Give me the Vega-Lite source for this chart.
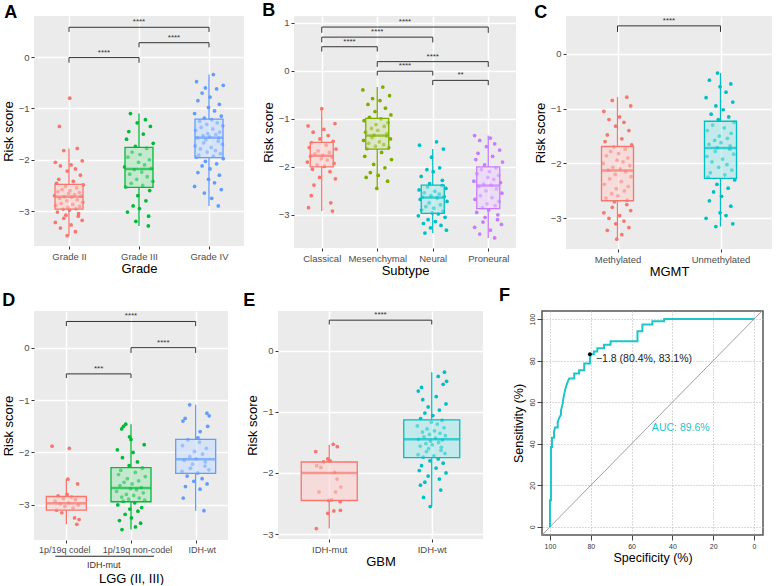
{
"$schema":"https://vega.github.io/schema/vega-lite/v6.json",
"padding":{"left":2,"top":2,"right":0,"bottom":0},
"background":"white",
"config":{
 "font":"Liberation Sans",
 "view":{"fill":"#EBEBEB","stroke":null},
 "axis":{"domain":false,"labelColor":"#4D4D4D","labelFontSize":9.5,"titleFontSize":13,"titleFontWeight":"normal","titleColor":"#000000","tickColor":"#333333","tickSize":3,"tickWidth":1,"gridColor":"#FFFFFF","labelPadding":2,"titlePadding":3},
 "title":{"fontSize":18,"fontWeight":"bold","anchor":"start","frame":"bounds","color":"#000000"}
},
"datasets":{
"pA":[
{"g":"Grade II","v":-0.8,"j":0.05},{"g":"Grade II","v":-1.35,"j":-0.64},{"g":"Grade II","v":-1.78,"j":0.55},{"g":"Grade II","v":-1.82,"j":-0.35},{"g":"Grade II","v":-2.02,"j":0.88},{"g":"Grade II","v":-2.05,"j":-0.91},{"g":"Grade II","v":-2.1,"j":0.14},{"g":"Grade II","v":-2.12,"j":-0.57},{"g":"Grade II","v":-2.18,"j":0.43},{"g":"Grade II","v":-2.22,"j":-0.12},{"g":"Grade II","v":-2.3,"j":0.76},{"g":"Grade II","v":-2.38,"j":-0.68},{"g":"Grade II","v":-2.42,"j":0.29},{"g":"Grade II","v":-2.46,"j":-0.83},{"g":"Grade II","v":-2.49,"j":0.95},{"g":"Grade II","v":-2.52,"j":-0.24},{"g":"Grade II","v":-2.55,"j":0.51},{"g":"Grade II","v":-2.58,"j":-0.46},{"g":"Grade II","v":-2.6,"j":0.07},{"g":"Grade II","v":-2.62,"j":-0.74},{"g":"Grade II","v":-2.64,"j":0.69},{"g":"Grade II","v":-2.66,"j":-0.03},{"g":"Grade II","v":-2.68,"j":0.37},{"g":"Grade II","v":-2.7,"j":-0.96},{"g":"Grade II","v":-2.71,"j":0.82},{"g":"Grade II","v":-2.72,"j":-0.31},{"g":"Grade II","v":-2.73,"j":0.18},{"g":"Grade II","v":-2.75,"j":-0.62},{"g":"Grade II","v":-2.78,"j":0.55},{"g":"Grade II","v":-2.8,"j":-0.15},{"g":"Grade II","v":-2.83,"j":0.91},{"g":"Grade II","v":-2.85,"j":-0.52},{"g":"Grade II","v":-2.87,"j":0.25},{"g":"Grade II","v":-2.89,"j":-0.88},{"g":"Grade II","v":-2.91,"j":0.71},{"g":"Grade II","v":-2.93,"j":-0.08},{"g":"Grade II","v":-2.95,"j":0.46},{"g":"Grade II","v":-2.96,"j":-0.39},{"g":"Grade II","v":-2.98,"j":0.03},{"g":"Grade II","v":-3.02,"j":-0.77},{"g":"Grade II","v":-3.05,"j":0.64},{"g":"Grade II","v":-3.08,"j":-0.21},{"g":"Grade II","v":-3.1,"j":0.62},{"g":"Grade II","v":-3.14,"j":-0.35},{"g":"Grade II","v":-3.18,"j":0.88},{"g":"Grade II","v":-3.22,"j":-0.91},{"g":"Grade II","v":-3.27,"j":0.14},{"g":"Grade II","v":-3.33,"j":-0.57},{"g":"Grade II","v":-3.4,"j":0.43},{"g":"Grade II","v":-3.48,"j":-0.12},
{"g":"Grade III","v":-1.1,"j":-0.57},{"g":"Grade III","v":-1.22,"j":0.43},{"g":"Grade III","v":-1.28,"j":-0.12},{"g":"Grade III","v":-1.35,"j":0.76},{"g":"Grade III","v":-1.45,"j":-0.68},{"g":"Grade III","v":-1.5,"j":0.29},{"g":"Grade III","v":-1.6,"j":-0.83},{"g":"Grade III","v":-1.68,"j":0.95},{"g":"Grade III","v":-1.74,"j":-0.24},{"g":"Grade III","v":-1.78,"j":0.51},{"g":"Grade III","v":-1.85,"j":-0.46},{"g":"Grade III","v":-1.9,"j":0.07},{"g":"Grade III","v":-1.95,"j":-0.74},{"g":"Grade III","v":-2.0,"j":0.69},{"g":"Grade III","v":-2.05,"j":-0.03},{"g":"Grade III","v":-2.1,"j":0.37},{"g":"Grade III","v":-2.14,"j":-0.96},{"g":"Grade III","v":-2.17,"j":0.82},{"g":"Grade III","v":-2.19,"j":-0.31},{"g":"Grade III","v":-2.24,"j":0.18},{"g":"Grade III","v":-2.28,"j":-0.62},{"g":"Grade III","v":-2.33,"j":0.55},{"g":"Grade III","v":-2.38,"j":-0.15},{"g":"Grade III","v":-2.42,"j":0.91},{"g":"Grade III","v":-2.46,"j":-0.52},{"g":"Grade III","v":-2.5,"j":0.25},{"g":"Grade III","v":-2.53,"j":-0.88},{"g":"Grade III","v":-2.6,"j":0.71},{"g":"Grade III","v":-2.7,"j":-0.08},{"g":"Grade III","v":-2.8,"j":0.46},{"g":"Grade III","v":-2.9,"j":-0.39},{"g":"Grade III","v":-2.95,"j":0.03},{"g":"Grade III","v":-3.02,"j":-0.77},{"g":"Grade III","v":-3.1,"j":0.64},{"g":"Grade III","v":-3.2,"j":-0.21},{"g":"Grade III","v":-3.29,"j":0.62},
{"g":"Grade IV","v":-0.34,"j":0.29},{"g":"Grade IV","v":-0.48,"j":-0.83},{"g":"Grade IV","v":-0.55,"j":0.95},{"g":"Grade IV","v":-0.6,"j":-0.24},{"g":"Grade IV","v":-0.62,"j":0.51},{"g":"Grade IV","v":-0.7,"j":-0.46},{"g":"Grade IV","v":-0.78,"j":0.07},{"g":"Grade IV","v":-0.85,"j":-0.74},{"g":"Grade IV","v":-0.92,"j":0.69},{"g":"Grade IV","v":-0.98,"j":-0.03},{"g":"Grade IV","v":-1.05,"j":0.37},{"g":"Grade IV","v":-1.1,"j":-0.96},{"g":"Grade IV","v":-1.15,"j":0.82},{"g":"Grade IV","v":-1.19,"j":-0.31},{"g":"Grade IV","v":-1.22,"j":0.18},{"g":"Grade IV","v":-1.25,"j":-0.62},{"g":"Grade IV","v":-1.28,"j":0.55},{"g":"Grade IV","v":-1.31,"j":-0.15},{"g":"Grade IV","v":-1.34,"j":0.91},{"g":"Grade IV","v":-1.37,"j":-0.52},{"g":"Grade IV","v":-1.4,"j":0.25},{"g":"Grade IV","v":-1.43,"j":-0.88},{"g":"Grade IV","v":-1.46,"j":0.71},{"g":"Grade IV","v":-1.49,"j":-0.08},{"g":"Grade IV","v":-1.51,"j":0.46},{"g":"Grade IV","v":-1.53,"j":-0.39},{"g":"Grade IV","v":-1.55,"j":0.03},{"g":"Grade IV","v":-1.57,"j":-0.77},{"g":"Grade IV","v":-1.58,"j":0.64},{"g":"Grade IV","v":-1.61,"j":-0.21},{"g":"Grade IV","v":-1.64,"j":0.62},{"g":"Grade IV","v":-1.67,"j":-0.35},{"g":"Grade IV","v":-1.7,"j":0.88},{"g":"Grade IV","v":-1.73,"j":-0.91},{"g":"Grade IV","v":-1.76,"j":0.14},{"g":"Grade IV","v":-1.79,"j":-0.57},{"g":"Grade IV","v":-1.82,"j":0.43},{"g":"Grade IV","v":-1.85,"j":-0.12},{"g":"Grade IV","v":-1.88,"j":0.76},{"g":"Grade IV","v":-1.91,"j":-0.68},{"g":"Grade IV","v":-1.93,"j":0.29},{"g":"Grade IV","v":-1.95,"j":-0.83},{"g":"Grade IV","v":-1.98,"j":0.95},{"g":"Grade IV","v":-2.03,"j":-0.24},{"g":"Grade IV","v":-2.08,"j":0.51},{"g":"Grade IV","v":-2.12,"j":-0.46},{"g":"Grade IV","v":-2.18,"j":0.07},{"g":"Grade IV","v":-2.25,"j":-0.74},{"g":"Grade IV","v":-2.3,"j":0.69},{"g":"Grade IV","v":-2.38,"j":-0.03},{"g":"Grade IV","v":-2.45,"j":0.37},{"g":"Grade IV","v":-2.52,"j":-0.96},{"g":"Grade IV","v":-2.58,"j":0.82},{"g":"Grade IV","v":-2.65,"j":-0.31},{"g":"Grade IV","v":-2.75,"j":0.18},{"g":"Grade IV","v":-2.9,"j":0.62}
],
"bA":[{"g":"Grade II","lo":-3.48,"q1":-2.96,"med":-2.72,"q3":-2.48,"hi":-1.78},{"g":"Grade III","lo":-3.29,"q1":-2.54,"med":-2.18,"q3":-1.76,"hi":-1.1},{"g":"Grade IV","lo":-2.9,"q1":-1.96,"med":-1.57,"q3":-1.21,"hi":-0.34}],
"kA":[{"a":"Grade II","b":"Grade III","m":"_1","y":-0.01,"yb":-0.11,"t":"****"},{"a":"Grade III","b":"Grade IV","m":"_2","y":0.28,"yb":0.19,"t":"****"},{"a":"Grade II","b":"Grade IV","m":"Grade III","y":0.58,"yb":0.49,"t":"****"}],
"pB":[
{"g":"Classical","v":-0.79,"j":0.0},{"g":"Classical","v":-1.1,"j":0.88},{"g":"Classical","v":-1.15,"j":-0.91},{"g":"Classical","v":-1.22,"j":0.14},{"g":"Classical","v":-1.28,"j":-0.57},{"g":"Classical","v":-1.35,"j":0.43},{"g":"Classical","v":-1.42,"j":-0.12},{"g":"Classical","v":-1.47,"j":0.76},{"g":"Classical","v":-1.5,"j":-0.68},{"g":"Classical","v":-1.55,"j":0.29},{"g":"Classical","v":-1.6,"j":-0.83},{"g":"Classical","v":-1.63,"j":0.95},{"g":"Classical","v":-1.67,"j":-0.24},{"g":"Classical","v":-1.7,"j":0.51},{"g":"Classical","v":-1.73,"j":-0.46},{"g":"Classical","v":-1.76,"j":0.07},{"g":"Classical","v":-1.78,"j":-0.74},{"g":"Classical","v":-1.8,"j":0.69},{"g":"Classical","v":-1.83,"j":-0.03},{"g":"Classical","v":-1.86,"j":0.37},{"g":"Classical","v":-1.9,"j":-0.96},{"g":"Classical","v":-1.93,"j":0.82},{"g":"Classical","v":-1.96,"j":-0.31},{"g":"Classical","v":-1.99,"j":0.18},{"g":"Classical","v":-2.05,"j":-0.62},{"g":"Classical","v":-2.1,"j":0.55},{"g":"Classical","v":-2.22,"j":-0.15},{"g":"Classical","v":-2.25,"j":0.91},{"g":"Classical","v":-2.38,"j":-0.52},{"g":"Classical","v":-2.6,"j":-0.7},{"g":"Classical","v":-2.75,"j":0.6},{"g":"Classical","v":-2.85,"j":-0.88},{"g":"Classical","v":-2.92,"j":0.71},
{"g":"Mesenchymal","v":-0.34,"j":0.37},{"g":"Mesenchymal","v":-0.4,"j":-0.96},{"g":"Mesenchymal","v":-0.52,"j":0.82},{"g":"Mesenchymal","v":-0.58,"j":-0.31},{"g":"Mesenchymal","v":-0.62,"j":0.18},{"g":"Mesenchymal","v":-0.7,"j":-0.62},{"g":"Mesenchymal","v":-0.78,"j":0.55},{"g":"Mesenchymal","v":-0.85,"j":-0.15},{"g":"Mesenchymal","v":-0.92,"j":0.91},{"g":"Mesenchymal","v":-0.97,"j":-0.52},{"g":"Mesenchymal","v":-1.0,"j":0.25},{"g":"Mesenchymal","v":-1.04,"j":-0.88},{"g":"Mesenchymal","v":-1.08,"j":0.71},{"g":"Mesenchymal","v":-1.12,"j":-0.08},{"g":"Mesenchymal","v":-1.16,"j":0.46},{"g":"Mesenchymal","v":-1.2,"j":-0.39},{"g":"Mesenchymal","v":-1.24,"j":0.03},{"g":"Mesenchymal","v":-1.28,"j":-0.77},{"g":"Mesenchymal","v":-1.31,"j":0.64},{"g":"Mesenchymal","v":-1.34,"j":-0.21},{"g":"Mesenchymal","v":-1.36,"j":0.62},{"g":"Mesenchymal","v":-1.39,"j":-0.35},{"g":"Mesenchymal","v":-1.42,"j":0.88},{"g":"Mesenchymal","v":-1.45,"j":-0.91},{"g":"Mesenchymal","v":-1.48,"j":0.14},{"g":"Mesenchymal","v":-1.51,"j":-0.57},{"g":"Mesenchymal","v":-1.54,"j":0.43},{"g":"Mesenchymal","v":-1.57,"j":-0.12},{"g":"Mesenchymal","v":-1.6,"j":0.76},{"g":"Mesenchymal","v":-1.62,"j":-0.68},{"g":"Mesenchymal","v":-1.7,"j":0.29},{"g":"Mesenchymal","v":-1.78,"j":-0.83},{"g":"Mesenchymal","v":-1.85,"j":0.95},{"g":"Mesenchymal","v":-1.95,"j":-0.24},{"g":"Mesenchymal","v":-2.02,"j":0.51},{"g":"Mesenchymal","v":-2.12,"j":-0.46},{"g":"Mesenchymal","v":-2.18,"j":0.07},{"g":"Mesenchymal","v":-2.22,"j":-0.74},{"g":"Mesenchymal","v":-2.3,"j":0.69},{"g":"Mesenchymal","v":-2.45,"j":-0.03},
{"g":"Neural","v":-1.48,"j":0.25},{"g":"Neural","v":-1.55,"j":-0.88},{"g":"Neural","v":-1.63,"j":0.71},{"g":"Neural","v":-1.8,"j":-0.08},{"g":"Neural","v":-2.02,"j":0.46},{"g":"Neural","v":-2.06,"j":-0.39},{"g":"Neural","v":-2.1,"j":0.03},{"g":"Neural","v":-2.2,"j":-0.77},{"g":"Neural","v":-2.28,"j":0.64},{"g":"Neural","v":-2.35,"j":-0.21},{"g":"Neural","v":-2.39,"j":0.62},{"g":"Neural","v":-2.42,"j":-0.35},{"g":"Neural","v":-2.45,"j":0.88},{"g":"Neural","v":-2.48,"j":-0.91},{"g":"Neural","v":-2.51,"j":0.14},{"g":"Neural","v":-2.54,"j":-0.57},{"g":"Neural","v":-2.57,"j":0.43},{"g":"Neural","v":-2.6,"j":-0.12},{"g":"Neural","v":-2.62,"j":0.76},{"g":"Neural","v":-2.63,"j":-0.68},{"g":"Neural","v":-2.65,"j":0.29},{"g":"Neural","v":-2.68,"j":-0.83},{"g":"Neural","v":-2.72,"j":0.95},{"g":"Neural","v":-2.75,"j":-0.24},{"g":"Neural","v":-2.79,"j":0.51},{"g":"Neural","v":-2.83,"j":-0.46},{"g":"Neural","v":-2.86,"j":0.07},{"g":"Neural","v":-2.9,"j":-0.74},{"g":"Neural","v":-2.93,"j":0.69},{"g":"Neural","v":-2.96,"j":-0.03},{"g":"Neural","v":-2.98,"j":0.37},{"g":"Neural","v":-3.02,"j":-0.96},{"g":"Neural","v":-3.05,"j":0.82},{"g":"Neural","v":-3.1,"j":-0.31},{"g":"Neural","v":-3.14,"j":0.18},{"g":"Neural","v":-3.18,"j":-0.62},{"g":"Neural","v":-3.22,"j":0.55},{"g":"Neural","v":-3.27,"j":-0.15},{"g":"Neural","v":-3.32,"j":0.91},{"g":"Neural","v":-3.38,"j":-0.52},
{"g":"Proneural","v":-1.35,"j":-0.91},{"g":"Proneural","v":-1.4,"j":0.14},{"g":"Proneural","v":-1.45,"j":-0.57},{"g":"Proneural","v":-1.52,"j":0.43},{"g":"Proneural","v":-1.58,"j":-0.12},{"g":"Proneural","v":-1.65,"j":0.76},{"g":"Proneural","v":-1.72,"j":-0.68},{"g":"Proneural","v":-1.78,"j":0.29},{"g":"Proneural","v":-1.85,"j":-0.83},{"g":"Proneural","v":-1.9,"j":0.95},{"g":"Proneural","v":-1.96,"j":-0.24},{"g":"Proneural","v":-2.02,"j":0.51},{"g":"Proneural","v":-2.06,"j":-0.46},{"g":"Proneural","v":-2.1,"j":0.07},{"g":"Proneural","v":-2.14,"j":-0.74},{"g":"Proneural","v":-2.18,"j":0.69},{"g":"Proneural","v":-2.22,"j":-0.03},{"g":"Proneural","v":-2.26,"j":0.37},{"g":"Proneural","v":-2.3,"j":-0.96},{"g":"Proneural","v":-2.33,"j":0.82},{"g":"Proneural","v":-2.36,"j":-0.31},{"g":"Proneural","v":-2.38,"j":0.18},{"g":"Proneural","v":-2.41,"j":-0.62},{"g":"Proneural","v":-2.46,"j":0.55},{"g":"Proneural","v":-2.5,"j":-0.15},{"g":"Proneural","v":-2.55,"j":0.91},{"g":"Proneural","v":-2.6,"j":-0.52},{"g":"Proneural","v":-2.64,"j":0.25},{"g":"Proneural","v":-2.68,"j":-0.88},{"g":"Proneural","v":-2.72,"j":0.71},{"g":"Proneural","v":-2.77,"j":-0.08},{"g":"Proneural","v":-2.81,"j":0.46},{"g":"Proneural","v":-2.85,"j":-0.39},{"g":"Proneural","v":-2.9,"j":0.03},{"g":"Proneural","v":-2.95,"j":-0.77},{"g":"Proneural","v":-3.0,"j":0.64},{"g":"Proneural","v":-3.05,"j":-0.21},{"g":"Proneural","v":-3.1,"j":0.62},{"g":"Proneural","v":-3.15,"j":-0.35},{"g":"Proneural","v":-3.2,"j":0.88},{"g":"Proneural","v":-3.26,"j":-0.91},{"g":"Proneural","v":-3.32,"j":0.14},{"g":"Proneural","v":-3.4,"j":-0.57},{"g":"Proneural","v":-3.48,"j":0.43}
],
"bB":[{"g":"Classical","lo":-2.92,"q1":-2.0,"med":-1.77,"q3":-1.49,"hi":-0.79},{"g":"Mesenchymal","lo":-2.45,"q1":-1.63,"med":-1.35,"q3":-0.99,"hi":-0.34},{"g":"Neural","lo":-3.38,"q1":-2.97,"med":-2.64,"q3":-2.38,"hi":-1.63},{"g":"Proneural","lo":-3.48,"q1":-2.87,"med":-2.39,"q3":-2.0,"hi":-1.35}],
"kB":[{"a":"Classical","b":"Proneural","m":"_2","y":0.91,"yb":0.79,"t":"****"},{"a":"Classical","b":"Neural","m":"Mesenchymal","y":0.7,"yb":0.59,"t":"****"},{"a":"Classical","b":"Mesenchymal","m":"_1","y":0.5,"yb":0.4,"t":"****"},{"a":"Mesenchymal","b":"Proneural","m":"Neural","y":0.19,"yb":0.08,"t":"****"},{"a":"Mesenchymal","b":"Neural","m":"_2","y":-0.01,"yb":-0.1,"t":"****"},{"a":"Neural","b":"Proneural","m":"_3","y":-0.2,"yb":-0.3,"t":"**"}],
"pC":[
{"g":"Methylated","v":-0.79,"j":0.62},{"g":"Methylated","v":-0.85,"j":-0.35},{"g":"Methylated","v":-0.95,"j":0.88},{"g":"Methylated","v":-1.05,"j":-0.91},{"g":"Methylated","v":-1.15,"j":0.14},{"g":"Methylated","v":-1.2,"j":-0.57},{"g":"Methylated","v":-1.25,"j":0.43},{"g":"Methylated","v":-1.32,"j":-0.12},{"g":"Methylated","v":-1.4,"j":0.76},{"g":"Methylated","v":-1.48,"j":-0.68},{"g":"Methylated","v":-1.55,"j":0.29},{"g":"Methylated","v":-1.6,"j":-0.83},{"g":"Methylated","v":-1.66,"j":0.95},{"g":"Methylated","v":-1.7,"j":-0.24},{"g":"Methylated","v":-1.74,"j":0.51},{"g":"Methylated","v":-1.78,"j":-0.46},{"g":"Methylated","v":-1.82,"j":0.07},{"g":"Methylated","v":-1.86,"j":-0.74},{"g":"Methylated","v":-1.9,"j":0.69},{"g":"Methylated","v":-1.94,"j":-0.03},{"g":"Methylated","v":-1.97,"j":0.37},{"g":"Methylated","v":-2.0,"j":-0.96},{"g":"Methylated","v":-2.04,"j":0.82},{"g":"Methylated","v":-2.07,"j":-0.31},{"g":"Methylated","v":-2.1,"j":0.18},{"g":"Methylated","v":-2.12,"j":-0.62},{"g":"Methylated","v":-2.15,"j":0.55},{"g":"Methylated","v":-2.2,"j":-0.15},{"g":"Methylated","v":-2.24,"j":0.91},{"g":"Methylated","v":-2.28,"j":-0.52},{"g":"Methylated","v":-2.33,"j":0.25},{"g":"Methylated","v":-2.38,"j":-0.88},{"g":"Methylated","v":-2.42,"j":0.71},{"g":"Methylated","v":-2.46,"j":-0.08},{"g":"Methylated","v":-2.5,"j":0.46},{"g":"Methylated","v":-2.55,"j":-0.39},{"g":"Methylated","v":-2.59,"j":0.03},{"g":"Methylated","v":-2.63,"j":-0.77},{"g":"Methylated","v":-2.67,"j":0.64},{"g":"Methylated","v":-2.7,"j":-0.21},{"g":"Methylated","v":-2.75,"j":0.62},{"g":"Methylated","v":-2.8,"j":-0.35},{"g":"Methylated","v":-2.86,"j":0.88},{"g":"Methylated","v":-2.9,"j":-0.91},{"g":"Methylated","v":-2.95,"j":0.14},{"g":"Methylated","v":-3.0,"j":-0.57},{"g":"Methylated","v":-3.05,"j":0.43},{"g":"Methylated","v":-3.1,"j":-0.12},{"g":"Methylated","v":-3.17,"j":0.76},{"g":"Methylated","v":-3.22,"j":-0.68},{"g":"Methylated","v":-3.3,"j":0.29},{"g":"Methylated","v":-3.38,"j":-0.05},
{"g":"Unmethylated","v":-0.35,"j":-0.2},{"g":"Unmethylated","v":-0.48,"j":-0.74},{"g":"Unmethylated","v":-0.55,"j":0.69},{"g":"Unmethylated","v":-0.6,"j":-0.03},{"g":"Unmethylated","v":-0.7,"j":0.37},{"g":"Unmethylated","v":-0.8,"j":-0.96},{"g":"Unmethylated","v":-0.88,"j":0.82},{"g":"Unmethylated","v":-0.95,"j":-0.31},{"g":"Unmethylated","v":-1.02,"j":0.18},{"g":"Unmethylated","v":-1.1,"j":-0.62},{"g":"Unmethylated","v":-1.15,"j":0.55},{"g":"Unmethylated","v":-1.2,"j":-0.15},{"g":"Unmethylated","v":-1.25,"j":0.91},{"g":"Unmethylated","v":-1.3,"j":-0.52},{"g":"Unmethylated","v":-1.35,"j":0.25},{"g":"Unmethylated","v":-1.4,"j":-0.88},{"g":"Unmethylated","v":-1.45,"j":0.71},{"g":"Unmethylated","v":-1.5,"j":-0.08},{"g":"Unmethylated","v":-1.54,"j":0.46},{"g":"Unmethylated","v":-1.58,"j":-0.39},{"g":"Unmethylated","v":-1.62,"j":0.03},{"g":"Unmethylated","v":-1.65,"j":-0.77},{"g":"Unmethylated","v":-1.68,"j":0.64},{"g":"Unmethylated","v":-1.71,"j":-0.21},{"g":"Unmethylated","v":-1.74,"j":0.62},{"g":"Unmethylated","v":-1.78,"j":-0.35},{"g":"Unmethylated","v":-1.83,"j":0.88},{"g":"Unmethylated","v":-1.87,"j":-0.91},{"g":"Unmethylated","v":-1.92,"j":0.14},{"g":"Unmethylated","v":-1.97,"j":-0.57},{"g":"Unmethylated","v":-2.02,"j":0.43},{"g":"Unmethylated","v":-2.07,"j":-0.12},{"g":"Unmethylated","v":-2.12,"j":0.76},{"g":"Unmethylated","v":-2.17,"j":-0.68},{"g":"Unmethylated","v":-2.21,"j":0.29},{"g":"Unmethylated","v":-2.25,"j":-0.83},{"g":"Unmethylated","v":-2.3,"j":0.95},{"g":"Unmethylated","v":-2.38,"j":-0.24},{"g":"Unmethylated","v":-2.45,"j":0.51},{"g":"Unmethylated","v":-2.52,"j":-0.46},{"g":"Unmethylated","v":-2.6,"j":0.07},{"g":"Unmethylated","v":-2.68,"j":-0.74},{"g":"Unmethylated","v":-2.78,"j":0.69},{"g":"Unmethylated","v":-2.9,"j":-0.03},{"g":"Unmethylated","v":-2.95,"j":0.37},{"g":"Unmethylated","v":-3.0,"j":-0.96},{"g":"Unmethylated","v":-3.1,"j":0.82},{"g":"Unmethylated","v":-3.15,"j":-0.31}
],
"bC":[{"g":"Methylated","lo":-3.38,"q1":-2.68,"med":-2.13,"q3":-1.69,"hi":-0.79},{"g":"Unmethylated","lo":-3.15,"q1":-2.27,"med":-1.72,"q3":-1.23,"hi":-0.35}],
"kC":[{"a":"Methylated","b":"Unmethylated","m":"_1","y":0.51,"yb":0.4,"t":"****"}],
"pD":[
{"g":"1p/19q codel","v":-1.88,"j":-0.95},{"g":"1p/19q codel","v":-1.92,"j":0.2},{"g":"1p/19q codel","v":-2.51,"j":0.1},{"g":"1p/19q codel","v":-2.6,"j":0.75},{"g":"1p/19q codel","v":-2.8,"j":0.05},{"g":"1p/19q codel","v":-2.83,"j":-0.55},{"g":"1p/19q codel","v":-2.85,"j":0.35},{"g":"1p/19q codel","v":-2.88,"j":-0.2},{"g":"1p/19q codel","v":-2.9,"j":0.6},{"g":"1p/19q codel","v":-2.93,"j":-0.75},{"g":"1p/19q codel","v":-2.96,"j":0.15},{"g":"1p/19q codel","v":-2.98,"j":-0.4},{"g":"1p/19q codel","v":-3.0,"j":0.8},{"g":"1p/19q codel","v":-3.03,"j":-0.1},{"g":"1p/19q codel","v":-3.06,"j":0.45},{"g":"1p/19q codel","v":-3.1,"j":-0.65},{"g":"1p/19q codel","v":-3.15,"j":-0.3},{"g":"1p/19q codel","v":-3.25,"j":0.55},{"g":"1p/19q codel","v":-3.28,"j":0.85},{"g":"1p/19q codel","v":-3.37,"j":0.7},
{"g":"1p/19q non-codel","v":-1.46,"j":-0.35},{"g":"1p/19q non-codel","v":-1.5,"j":-0.5},{"g":"1p/19q non-codel","v":-1.55,"j":-0.62},{"g":"1p/19q non-codel","v":-1.7,"j":-0.1},{"g":"1p/19q non-codel","v":-1.75,"j":0.0},{"g":"1p/19q non-codel","v":-1.85,"j":0.88},{"g":"1p/19q non-codel","v":-1.95,"j":-0.91},{"g":"1p/19q non-codel","v":-2.0,"j":0.14},{"g":"1p/19q non-codel","v":-2.1,"j":-0.57},{"g":"1p/19q non-codel","v":-2.18,"j":0.43},{"g":"1p/19q non-codel","v":-2.25,"j":-0.12},{"g":"1p/19q non-codel","v":-2.3,"j":0.76},{"g":"1p/19q non-codel","v":-2.34,"j":-0.68},{"g":"1p/19q non-codel","v":-2.38,"j":0.29},{"g":"1p/19q non-codel","v":-2.42,"j":-0.83},{"g":"1p/19q non-codel","v":-2.46,"j":0.95},{"g":"1p/19q non-codel","v":-2.5,"j":-0.24},{"g":"1p/19q non-codel","v":-2.54,"j":0.51},{"g":"1p/19q non-codel","v":-2.57,"j":-0.46},{"g":"1p/19q non-codel","v":-2.6,"j":0.07},{"g":"1p/19q non-codel","v":-2.63,"j":-0.74},{"g":"1p/19q non-codel","v":-2.67,"j":0.69},{"g":"1p/19q non-codel","v":-2.69,"j":-0.03},{"g":"1p/19q non-codel","v":-2.71,"j":0.37},{"g":"1p/19q non-codel","v":-2.74,"j":-0.96},{"g":"1p/19q non-codel","v":-2.77,"j":0.82},{"g":"1p/19q non-codel","v":-2.8,"j":-0.31},{"g":"1p/19q non-codel","v":-2.82,"j":0.18},{"g":"1p/19q non-codel","v":-2.85,"j":-0.62},{"g":"1p/19q non-codel","v":-2.87,"j":0.55},{"g":"1p/19q non-codel","v":-2.89,"j":-0.15},{"g":"1p/19q non-codel","v":-2.91,"j":0.91},{"g":"1p/19q non-codel","v":-2.93,"j":-0.52},{"g":"1p/19q non-codel","v":-2.96,"j":0.25},{"g":"1p/19q non-codel","v":-3.0,"j":-0.88},{"g":"1p/19q non-codel","v":-3.05,"j":0.71},{"g":"1p/19q non-codel","v":-3.08,"j":-0.08},{"g":"1p/19q non-codel","v":-3.12,"j":0.46},{"g":"1p/19q non-codel","v":-3.18,"j":-0.39},{"g":"1p/19q non-codel","v":-3.25,"j":0.03},{"g":"1p/19q non-codel","v":-3.3,"j":-0.77},{"g":"1p/19q non-codel","v":-3.35,"j":0.64},{"g":"1p/19q non-codel","v":-3.42,"j":0.3},{"g":"1p/19q non-codel","v":-3.47,"j":-0.6},
{"g":"IDH-wt","v":-1.09,"j":-0.4},{"g":"IDH-wt","v":-1.25,"j":0.75},{"g":"IDH-wt","v":-1.3,"j":0.9},{"g":"IDH-wt","v":-1.35,"j":-0.7},{"g":"IDH-wt","v":-1.4,"j":-0.85},{"g":"IDH-wt","v":-1.5,"j":0.8},{"g":"IDH-wt","v":-1.6,"j":0.3},{"g":"IDH-wt","v":-1.72,"j":0.15},{"g":"IDH-wt","v":-1.76,"j":-0.52},{"g":"IDH-wt","v":-1.8,"j":0.25},{"g":"IDH-wt","v":-1.87,"j":-0.88},{"g":"IDH-wt","v":-1.92,"j":0.71},{"g":"IDH-wt","v":-1.98,"j":-0.08},{"g":"IDH-wt","v":-2.03,"j":0.46},{"g":"IDH-wt","v":-2.08,"j":-0.39},{"g":"IDH-wt","v":-2.12,"j":0.03},{"g":"IDH-wt","v":-2.15,"j":-0.77},{"g":"IDH-wt","v":-2.18,"j":0.64},{"g":"IDH-wt","v":-2.22,"j":-0.21},{"g":"IDH-wt","v":-2.26,"j":0.62},{"g":"IDH-wt","v":-2.3,"j":-0.35},{"g":"IDH-wt","v":-2.33,"j":0.88},{"g":"IDH-wt","v":-2.36,"j":-0.91},{"g":"IDH-wt","v":-2.39,"j":0.14},{"g":"IDH-wt","v":-2.45,"j":-0.57},{"g":"IDH-wt","v":-2.5,"j":0.43},{"g":"IDH-wt","v":-2.55,"j":-0.12},{"g":"IDH-wt","v":-2.6,"j":0.76},{"g":"IDH-wt","v":-2.65,"j":-0.68},{"g":"IDH-wt","v":-2.7,"j":0.29},{"g":"IDH-wt","v":-2.87,"j":-0.83},{"g":"IDH-wt","v":-3.11,"j":0.55}
],
"bD":[{"g":"1p/19q codel","lo":-3.37,"q1":-3.1,"med":-2.97,"q3":-2.84,"hi":-2.51},{"g":"1p/19q non-codel","lo":-3.47,"q1":-2.94,"med":-2.68,"q3":-2.29,"hi":-1.46},{"g":"IDH-wt","lo":-3.11,"q1":-2.4,"med":-2.13,"q3":-1.75,"hi":-1.09}],
"kD":[{"a":"1p/19q codel","b":"IDH-wt","m":"1p/19q non-codel","y":0.5,"yb":0.41,"t":"****"},{"a":"1p/19q non-codel","b":"IDH-wt","m":"_2","y":0.0,"yb":-0.1,"t":"****"},{"a":"1p/19q codel","b":"1p/19q non-codel","m":"_1","y":-0.5,"yb":-0.58,"t":"***"}],
"uD":[{"a":"1p/19q codel","b":"1p/19q non-codel","m":"_1","y":-3.98,"ty":-4.14,"t":"IDH-mut"}],
"pE":[
{"g":"IDH-mut","v":-1.65,"j":-0.9},{"g":"IDH-mut","v":-1.88,"j":-0.84},{"g":"IDH-mut","v":-1.91,"j":-0.56},{"g":"IDH-mut","v":-1.82,"j":-0.38},{"g":"IDH-mut","v":-1.77,"j":-0.1},{"g":"IDH-mut","v":-1.8,"j":0.0},{"g":"IDH-mut","v":-1.8,"j":0.06},{"g":"IDH-mut","v":-1.53,"j":0.27},{"g":"IDH-mut","v":-1.57,"j":0.54},{"g":"IDH-mut","v":-1.99,"j":0.36},{"g":"IDH-mut","v":-2.1,"j":0.52},{"g":"IDH-mut","v":-2.23,"j":0.77},{"g":"IDH-mut","v":-2.31,"j":-0.68},{"g":"IDH-mut","v":-2.31,"j":0.42},{"g":"IDH-mut","v":-2.45,"j":-0.04},{"g":"IDH-mut","v":-2.44,"j":0.15},{"g":"IDH-mut","v":-2.47,"j":0.73},{"g":"IDH-mut","v":-2.66,"j":-0.1},{"g":"IDH-mut","v":-2.62,"j":0.31},{"g":"IDH-mut","v":-2.61,"j":0.74},{"g":"IDH-mut","v":-2.91,"j":-0.86},
{"g":"IDH-wt","v":-0.35,"j":0.85},{"g":"IDH-wt","v":-0.42,"j":0.43},{"g":"IDH-wt","v":-0.5,"j":0.99},{"g":"IDH-wt","v":-0.55,"j":0.76},{"g":"IDH-wt","v":-0.6,"j":-0.68},{"g":"IDH-wt","v":-0.66,"j":-0.9},{"g":"IDH-wt","v":-0.75,"j":0.3},{"g":"IDH-wt","v":-0.8,"j":-0.6},{"g":"IDH-wt","v":-0.87,"j":0.95},{"g":"IDH-wt","v":-0.92,"j":-0.24},{"g":"IDH-wt","v":-0.97,"j":0.51},{"g":"IDH-wt","v":-1.02,"j":-0.46},{"g":"IDH-wt","v":-1.06,"j":0.07},{"g":"IDH-wt","v":-1.11,"j":-0.74},{"g":"IDH-wt","v":-1.14,"j":0.69},{"g":"IDH-wt","v":-1.17,"j":-0.03},{"g":"IDH-wt","v":-1.2,"j":0.37},{"g":"IDH-wt","v":-1.23,"j":-0.96},{"g":"IDH-wt","v":-1.26,"j":0.82},{"g":"IDH-wt","v":-1.28,"j":-0.31},{"g":"IDH-wt","v":-1.31,"j":0.18},{"g":"IDH-wt","v":-1.33,"j":-0.62},{"g":"IDH-wt","v":-1.35,"j":0.55},{"g":"IDH-wt","v":-1.37,"j":-0.15},{"g":"IDH-wt","v":-1.39,"j":0.91},{"g":"IDH-wt","v":-1.41,"j":-0.52},{"g":"IDH-wt","v":-1.43,"j":0.25},{"g":"IDH-wt","v":-1.45,"j":-0.88},{"g":"IDH-wt","v":-1.46,"j":0.71},{"g":"IDH-wt","v":-1.48,"j":-0.08},{"g":"IDH-wt","v":-1.5,"j":0.46},{"g":"IDH-wt","v":-1.52,"j":-0.39},{"g":"IDH-wt","v":-1.54,"j":0.03},{"g":"IDH-wt","v":-1.56,"j":-0.77},{"g":"IDH-wt","v":-1.58,"j":0.64},{"g":"IDH-wt","v":-1.6,"j":-0.21},{"g":"IDH-wt","v":-1.63,"j":0.62},{"g":"IDH-wt","v":-1.65,"j":-0.35},{"g":"IDH-wt","v":-1.68,"j":0.88},{"g":"IDH-wt","v":-1.7,"j":-0.91},{"g":"IDH-wt","v":-1.72,"j":0.14},{"g":"IDH-wt","v":-1.74,"j":-0.57},{"g":"IDH-wt","v":-1.77,"j":0.43},{"g":"IDH-wt","v":-1.8,"j":-0.12},{"g":"IDH-wt","v":-1.84,"j":0.76},{"g":"IDH-wt","v":-1.88,"j":-0.68},{"g":"IDH-wt","v":-1.92,"j":0.29},{"g":"IDH-wt","v":-1.96,"j":-0.83},{"g":"IDH-wt","v":-2.0,"j":0.95},{"g":"IDH-wt","v":-2.05,"j":-0.24},{"g":"IDH-wt","v":-2.1,"j":0.51},{"g":"IDH-wt","v":-2.15,"j":-0.46},{"g":"IDH-wt","v":-2.2,"j":-0.75},{"g":"IDH-wt","v":-2.28,"j":0.6},{"g":"IDH-wt","v":-2.4,"j":-0.55},{"g":"IDH-wt","v":-2.55,"j":-0.1}
],
"bE":[{"g":"IDH-mut","lo":-2.91,"q1":-2.45,"med":-2.0,"q3":-1.82,"hi":-1.54},{"g":"IDH-wt","lo":-2.55,"q1":-1.75,"med":-1.45,"q3":-1.13,"hi":-0.35}],
"kE":[{"a":"IDH-mut","b":"IDH-wt","m":"_1","y":0.5,"yb":0.43,"t":"****"}],
"roc":[{"o":1,"sp":100,"se":0},{"o":2,"sp":100,"se":12.8},{"o":3,"sp":99.5,"se":12.8},{"o":4,"sp":99.5,"se":38.4},{"o":5,"sp":99,"se":38.4},{"o":6,"sp":99,"se":42.9},{"o":7,"sp":98,"se":42.9},{"o":8,"sp":98,"se":46},{"o":9,"sp":97.5,"se":47.8},{"o":10,"sp":96.2,"se":47.8},{"o":11,"sp":96.2,"se":50.5},{"o":12,"sp":95.4,"se":52.7},{"o":13,"sp":94.6,"se":54},{"o":14,"sp":94.6,"se":56},{"o":15,"sp":93.8,"se":59.2},{"o":16,"sp":93.4,"se":62},{"o":17,"sp":93,"se":64},{"o":18,"sp":92.2,"se":67.3},{"o":19,"sp":91.3,"se":69.8},{"o":20,"sp":90.6,"se":71.4},{"o":21,"sp":88.1,"se":71.4},{"o":22,"sp":88.1,"se":73.8},{"o":23,"sp":85.7,"se":73.8},{"o":24,"sp":85.7,"se":75.4},{"o":25,"sp":83.2,"se":75.4},{"o":26,"sp":83.2,"se":78.6},{"o":27,"sp":80.4,"se":78.6},{"o":28,"sp":80.4,"se":83.1},{"o":29,"sp":78.5,"se":83.1},{"o":30,"sp":78.5,"se":84.4},{"o":31,"sp":76.8,"se":84.4},{"o":32,"sp":76.8,"se":86},{"o":33,"sp":73.5,"se":86},{"o":34,"sp":73.5,"se":87.7},{"o":35,"sp":70.3,"se":87.7},{"o":36,"sp":70.3,"se":89.3},{"o":37,"sp":57.1,"se":89.3},{"o":38,"sp":57.1,"se":94.1},{"o":39,"sp":54.7,"se":94.1},{"o":40,"sp":54.7,"se":97.4},{"o":41,"sp":49.8,"se":97.4},{"o":42,"sp":49.8,"se":99},{"o":43,"sp":44,"se":99},{"o":44,"sp":44,"se":100},{"o":45,"sp":0,"se":100}],
"diag":[{"sp":103.9,"se":-3.9},{"sp":-3.9,"se":103.9}],
"cut":[{"sp":80.4,"se":83.1,"t":"−1.8 (80.4%, 83.1%)"}],
"auc":[{"sp":35.9,"se":47.6,"t":"AUC: 89.6%"}]
},
"vconcat":[
{"hconcat":[
{"title":{"text":"A","offset":-6,"dx":2},"width":210,"height":230,
 "layer":[
 {"data":{"name":"pA"},"mark":{"type":"circle","size":14,"opacity":1},
  "encoding":{
   "x":{"field":"g","type":"nominal","title":"Grade","scale":{"type":"point","domain":["Grade II","_1","Grade III","_2","Grade IV"],"padding":1.2},
     "axis":{"grid":true,"gridWidth":1.5,"labelAngle":0,"titlePadding":2,"labelExpr":"indexof(datum.label,'_')===0 ? '' : datum.label","gridOpacity":{"condition":{"test":"indexof(datum.value,'_')===0","value":0},"value":1},"tickOpacity":{"condition":{"test":"indexof(datum.value,'_')===0","value":0},"value":1}}},
   "xOffset":{"field":"j","type":"quantitative","scale":{"domain":[-1,1],"range":[-15,15]}},
   "y":{"field":"v","type":"quantitative","title":"Risk score","scale":{"domain":[-3.68,0.8],"nice":false,"zero":false},
     "axis":{"values":[-3,-2.5,-2,-1.5,-1,-0.5,0,0.5],"format":".0f","labelOverlap":false,"labelExpr":"datum.value % 1 === 0 ? datum.label : ''","gridWidth":{"condition":{"test":"datum.value % 1 !== 0","value":0.7},"value":1.5},"tickOpacity":{"condition":{"test":"datum.value % 1 !== 0","value":0},"value":1}}},
   "color":{"field":"g","type":"nominal","scale":{"domain":["Grade II","Grade III","Grade IV"],"range":["#F8766D","#00BA38","#619CFF"]},"legend":null}}},
 {"data":{"name":"bA"},"mark":{"type":"bar","size":28,"color":"white","opacity":0.45},
  "encoding":{"x":{"field":"g","type":"nominal","title":"Grade"},"y":{"field":"q1","type":"quantitative","title":"Risk score"},"y2":{"field":"q3"}}},
 {"data":{"name":"bA"},"mark":{"type":"bar","size":28,"fillOpacity":0.2},
  "encoding":{"x":{"field":"g","type":"nominal","title":"Grade"},"y":{"field":"q1","type":"quantitative","title":"Risk score"},"y2":{"field":"q3"},"color":{"field":"g","type":"nominal","legend":null}}},
 {"data":{"name":"bA"},"mark":{"type":"bar","size":28,"filled":false,"strokeWidth":1.3},
  "encoding":{"x":{"field":"g","type":"nominal","title":"Grade"},"y":{"field":"q1","type":"quantitative","title":"Risk score"},"y2":{"field":"q3"},"color":{"field":"g","type":"nominal","legend":null}}},
 {"data":{"name":"bA"},"mark":{"type":"rule","strokeWidth":1.3},
  "encoding":{"x":{"field":"g","type":"nominal","title":"Grade"},"y":{"field":"q3","type":"quantitative","title":"Risk score"},"y2":{"field":"hi"},"color":{"field":"g","type":"nominal","legend":null}}},
 {"data":{"name":"bA"},"mark":{"type":"rule","strokeWidth":1.3},
  "encoding":{"x":{"field":"g","type":"nominal","title":"Grade"},"y":{"field":"lo","type":"quantitative","title":"Risk score"},"y2":{"field":"q1"},"color":{"field":"g","type":"nominal","legend":null}}},
 {"data":{"name":"bA"},"mark":{"type":"tick","orient":"horizontal","size":28,"thickness":2.5},
  "encoding":{"x":{"field":"g","type":"nominal","title":"Grade"},"y":{"field":"med","type":"quantitative","title":"Risk score"},"color":{"field":"g","type":"nominal","legend":null}}},
 {"data":{"name":"kA"},"mark":{"type":"rule","color":"#333333","strokeWidth":1},
  "encoding":{"x":{"field":"a","type":"nominal","title":"Grade"},"x2":{"field":"b"},"y":{"field":"y","type":"quantitative","title":"Risk score"}}},
 {"data":{"name":"kA"},"mark":{"type":"rule","color":"#333333","strokeWidth":1},
  "encoding":{"x":{"field":"a","type":"nominal","title":"Grade"},"y":{"field":"y","type":"quantitative","title":"Risk score"},"y2":{"field":"yb"}}},
 {"data":{"name":"kA"},"mark":{"type":"rule","color":"#333333","strokeWidth":1},
  "encoding":{"x":{"field":"b","type":"nominal","title":"Grade"},"y":{"field":"y","type":"quantitative","title":"Risk score"},"y2":{"field":"yb"}}},
 {"data":{"name":"kA"},"mark":{"type":"text","fontSize":8,"color":"#333333","baseline":"bottom","dy":-1},
  "encoding":{"x":{"field":"m","type":"nominal","title":"Grade"},"y":{"field":"y","type":"quantitative","title":"Risk score"},"text":{"field":"t"}}}
 ]},
{"title":{"text":"B","offset":-4,"dx":0},"width":222,"height":232,
 "layer":[
 {"data":{"name":"pB"},"mark":{"type":"circle","size":14,"opacity":1},
  "encoding":{
   "x":{"field":"g","type":"nominal","title":"Subtype","scale":{"type":"point","domain":["Classical","_1","Mesenchymal","_2","Neural","_3","Proneural"],"padding":1.2},
     "axis":{"grid":true,"gridWidth":1.5,"labelAngle":0,"titlePadding":2,"labelExpr":"indexof(datum.label,'_')===0 ? '' : datum.label","gridOpacity":{"condition":{"test":"indexof(datum.value,'_')===0","value":0},"value":1},"tickOpacity":{"condition":{"test":"indexof(datum.value,'_')===0","value":0},"value":1}}},
   "xOffset":{"field":"j","type":"quantitative","scale":{"domain":[-1,1],"range":[-13,13]}},
   "y":{"field":"v","type":"quantitative","title":"Risk score","scale":{"domain":[-3.69,1.14],"nice":false,"zero":false},
     "axis":{"values":[-3,-2.5,-2,-1.5,-1,-0.5,0,0.5,1],"format":".0f","labelOverlap":false,"labelExpr":"datum.value % 1 === 0 ? datum.label : ''","gridWidth":{"condition":{"test":"datum.value % 1 !== 0","value":0.7},"value":1.5},"tickOpacity":{"condition":{"test":"datum.value % 1 !== 0","value":0},"value":1}}},
   "color":{"field":"g","type":"nominal","scale":{"domain":["Classical","Mesenchymal","Neural","Proneural"],"range":["#F8766D","#7CAE00","#00BFC4","#C77CFF"]},"legend":null}}},
 {"data":{"name":"bB"},"mark":{"type":"bar","size":23,"color":"white","opacity":0.45},
  "encoding":{"x":{"field":"g","type":"nominal","title":"Subtype"},"y":{"field":"q1","type":"quantitative","title":"Risk score"},"y2":{"field":"q3"}}},
 {"data":{"name":"bB"},"mark":{"type":"bar","size":23,"fillOpacity":0.2},
  "encoding":{"x":{"field":"g","type":"nominal","title":"Subtype"},"y":{"field":"q1","type":"quantitative","title":"Risk score"},"y2":{"field":"q3"},"color":{"field":"g","type":"nominal","legend":null}}},
 {"data":{"name":"bB"},"mark":{"type":"bar","size":23,"filled":false,"strokeWidth":1.3},
  "encoding":{"x":{"field":"g","type":"nominal","title":"Subtype"},"y":{"field":"q1","type":"quantitative","title":"Risk score"},"y2":{"field":"q3"},"color":{"field":"g","type":"nominal","legend":null}}},
 {"data":{"name":"bB"},"mark":{"type":"rule","strokeWidth":1.3},
  "encoding":{"x":{"field":"g","type":"nominal","title":"Subtype"},"y":{"field":"q3","type":"quantitative","title":"Risk score"},"y2":{"field":"hi"},"color":{"field":"g","type":"nominal","legend":null}}},
 {"data":{"name":"bB"},"mark":{"type":"rule","strokeWidth":1.3},
  "encoding":{"x":{"field":"g","type":"nominal","title":"Subtype"},"y":{"field":"lo","type":"quantitative","title":"Risk score"},"y2":{"field":"q1"},"color":{"field":"g","type":"nominal","legend":null}}},
 {"data":{"name":"bB"},"mark":{"type":"tick","orient":"horizontal","size":23,"thickness":2.5},
  "encoding":{"x":{"field":"g","type":"nominal","title":"Subtype"},"y":{"field":"med","type":"quantitative","title":"Risk score"},"color":{"field":"g","type":"nominal","legend":null}}},
 {"data":{"name":"kB"},"mark":{"type":"rule","color":"#333333","strokeWidth":1},
  "encoding":{"x":{"field":"a","type":"nominal","title":"Subtype"},"x2":{"field":"b"},"y":{"field":"y","type":"quantitative","title":"Risk score"}}},
 {"data":{"name":"kB"},"mark":{"type":"rule","color":"#333333","strokeWidth":1},
  "encoding":{"x":{"field":"a","type":"nominal","title":"Subtype"},"y":{"field":"y","type":"quantitative","title":"Risk score"},"y2":{"field":"yb"}}},
 {"data":{"name":"kB"},"mark":{"type":"rule","color":"#333333","strokeWidth":1},
  "encoding":{"x":{"field":"b","type":"nominal","title":"Subtype"},"y":{"field":"y","type":"quantitative","title":"Risk score"},"y2":{"field":"yb"}}},
 {"data":{"name":"kB"},"mark":{"type":"text","fontSize":8,"color":"#333333","baseline":"bottom","dy":-1},
  "encoding":{"x":{"field":"m","type":"nominal","title":"Subtype"},"y":{"field":"y","type":"quantitative","title":"Risk score"},"text":{"field":"t"}}}
 ]},
{"title":{"text":"C","offset":-6,"dx":0},"width":206,"height":233,
 "layer":[
 {"data":{"name":"pC"},"mark":{"type":"circle","size":14,"opacity":1},
  "encoding":{
   "x":{"field":"g","type":"nominal","title":"MGMT","scale":{"type":"point","domain":["Methylated","_1","Unmethylated"],"padding":1.2},
     "axis":{"grid":true,"gridWidth":1.5,"labelAngle":0,"titlePadding":2,"labelExpr":"indexof(datum.label,'_')===0 ? '' : datum.label","gridOpacity":{"condition":{"test":"indexof(datum.value,'_')===0","value":0},"value":1},"tickOpacity":{"condition":{"test":"indexof(datum.value,'_')===0","value":0},"value":1}}},
   "xOffset":{"field":"j","type":"quantitative","scale":{"domain":[-1,1],"range":[-12,12]}},
   "y":{"field":"v","type":"quantitative","title":"Risk score","scale":{"domain":[-3.56,0.69],"nice":false,"zero":false},
     "axis":{"values":[-3,-2.5,-2,-1.5,-1,-0.5,0,0.5],"format":".0f","labelOverlap":false,"labelExpr":"datum.value % 1 === 0 ? datum.label : ''","gridWidth":{"condition":{"test":"datum.value % 1 !== 0","value":0.7},"value":1.5},"tickOpacity":{"condition":{"test":"datum.value % 1 !== 0","value":0},"value":1}}},
   "color":{"field":"g","type":"nominal","scale":{"domain":["Methylated","Unmethylated"],"range":["#F8766D","#00BFC4"]},"legend":null}}},
 {"data":{"name":"bC"},"mark":{"type":"bar","size":32,"color":"white","opacity":0.45},
  "encoding":{"x":{"field":"g","type":"nominal","title":"MGMT"},"y":{"field":"q1","type":"quantitative","title":"Risk score"},"y2":{"field":"q3"}}},
 {"data":{"name":"bC"},"mark":{"type":"bar","size":32,"fillOpacity":0.2},
  "encoding":{"x":{"field":"g","type":"nominal","title":"MGMT"},"y":{"field":"q1","type":"quantitative","title":"Risk score"},"y2":{"field":"q3"},"color":{"field":"g","type":"nominal","legend":null}}},
 {"data":{"name":"bC"},"mark":{"type":"bar","size":32,"filled":false,"strokeWidth":1.3},
  "encoding":{"x":{"field":"g","type":"nominal","title":"MGMT"},"y":{"field":"q1","type":"quantitative","title":"Risk score"},"y2":{"field":"q3"},"color":{"field":"g","type":"nominal","legend":null}}},
 {"data":{"name":"bC"},"mark":{"type":"rule","strokeWidth":1.3},
  "encoding":{"x":{"field":"g","type":"nominal","title":"MGMT"},"y":{"field":"q3","type":"quantitative","title":"Risk score"},"y2":{"field":"hi"},"color":{"field":"g","type":"nominal","legend":null}}},
 {"data":{"name":"bC"},"mark":{"type":"rule","strokeWidth":1.3},
  "encoding":{"x":{"field":"g","type":"nominal","title":"MGMT"},"y":{"field":"lo","type":"quantitative","title":"Risk score"},"y2":{"field":"q1"},"color":{"field":"g","type":"nominal","legend":null}}},
 {"data":{"name":"bC"},"mark":{"type":"tick","orient":"horizontal","size":32,"thickness":2.5},
  "encoding":{"x":{"field":"g","type":"nominal","title":"MGMT"},"y":{"field":"med","type":"quantitative","title":"Risk score"},"color":{"field":"g","type":"nominal","legend":null}}},
 {"data":{"name":"kC"},"mark":{"type":"rule","color":"#333333","strokeWidth":1},
  "encoding":{"x":{"field":"a","type":"nominal","title":"MGMT"},"x2":{"field":"b"},"y":{"field":"y","type":"quantitative","title":"Risk score"}}},
 {"data":{"name":"kC"},"mark":{"type":"rule","color":"#333333","strokeWidth":1},
  "encoding":{"x":{"field":"a","type":"nominal","title":"MGMT"},"y":{"field":"y","type":"quantitative","title":"Risk score"},"y2":{"field":"yb"}}},
 {"data":{"name":"kC"},"mark":{"type":"rule","color":"#333333","strokeWidth":1},
  "encoding":{"x":{"field":"b","type":"nominal","title":"MGMT"},"y":{"field":"y","type":"quantitative","title":"Risk score"},"y2":{"field":"yb"}}},
 {"data":{"name":"kC"},"mark":{"type":"text","fontSize":8,"color":"#333333","baseline":"bottom","dy":-1},
  "encoding":{"x":{"field":"m","type":"nominal","title":"MGMT"},"y":{"field":"y","type":"quantitative","title":"Risk score"},"text":{"field":"t"}}}
 ]}
],"spacing":18,"resolve":{"scale":{"color":"independent"}}},
{"hconcat":[
{"title":{"text":"D","offset":1,"dx":0},"width":194,"height":229,
 "layer":[
 {"data":{"name":"pD"},"mark":{"type":"circle","size":14,"opacity":1},
  "encoding":{
   "x":{"field":"g","type":"nominal","title":"LGG (II, III)","scale":{"type":"point","domain":["1p/19q codel","_1","1p/19q non-codel","_2","IDH-wt"],"padding":1.2},
     "axis":{"grid":true,"gridWidth":1.5,"labelAngle":0,"labelFontSize":9,"titlePadding":18,"labelExpr":"indexof(datum.label,'_')===0 ? '' : datum.label","labelOffset":{"condition":{"test":"datum.value !== '1p/19q codel'","value":6},"value":-2},"gridOpacity":{"condition":{"test":"indexof(datum.value,'_')===0","value":0},"value":1},"tickOpacity":{"condition":{"test":"indexof(datum.value,'_')===0","value":0},"value":1}}},
   "xOffset":{"field":"j","type":"quantitative","scale":{"domain":[-1,1],"range":[-19,19]}},
   "y":{"field":"v","type":"quantitative","title":"Risk score","scale":{"domain":[-3.67,0.7],"nice":false,"zero":false},
     "axis":{"values":[-3,-2.5,-2,-1.5,-1,-0.5,0,0.5],"format":".0f","labelOverlap":false,"labelExpr":"datum.value % 1 === 0 ? datum.label : ''","gridWidth":{"condition":{"test":"datum.value % 1 !== 0","value":0.7},"value":1.5},"tickOpacity":{"condition":{"test":"datum.value % 1 !== 0","value":0},"value":1}}},
   "color":{"field":"g","type":"nominal","scale":{"domain":["1p/19q codel","1p/19q non-codel","IDH-wt"],"range":["#F8766D","#00BA38","#619CFF"]},"legend":null}}},
 {"data":{"name":"bD"},"mark":{"type":"bar","size":40,"color":"white","opacity":0.45},
  "encoding":{"x":{"field":"g","type":"nominal","title":"LGG (II, III)"},"y":{"field":"q1","type":"quantitative","title":"Risk score"},"y2":{"field":"q3"}}},
 {"data":{"name":"bD"},"mark":{"type":"bar","size":40,"fillOpacity":0.2},
  "encoding":{"x":{"field":"g","type":"nominal","title":"LGG (II, III)"},"y":{"field":"q1","type":"quantitative","title":"Risk score"},"y2":{"field":"q3"},"color":{"field":"g","type":"nominal","legend":null}}},
 {"data":{"name":"bD"},"mark":{"type":"bar","size":40,"filled":false,"strokeWidth":1.3},
  "encoding":{"x":{"field":"g","type":"nominal","title":"LGG (II, III)"},"y":{"field":"q1","type":"quantitative","title":"Risk score"},"y2":{"field":"q3"},"color":{"field":"g","type":"nominal","legend":null}}},
 {"data":{"name":"bD"},"mark":{"type":"rule","strokeWidth":1.3},
  "encoding":{"x":{"field":"g","type":"nominal","title":"LGG (II, III)"},"y":{"field":"q3","type":"quantitative","title":"Risk score"},"y2":{"field":"hi"},"color":{"field":"g","type":"nominal","legend":null}}},
 {"data":{"name":"bD"},"mark":{"type":"rule","strokeWidth":1.3},
  "encoding":{"x":{"field":"g","type":"nominal","title":"LGG (II, III)"},"y":{"field":"lo","type":"quantitative","title":"Risk score"},"y2":{"field":"q1"},"color":{"field":"g","type":"nominal","legend":null}}},
 {"data":{"name":"bD"},"mark":{"type":"tick","orient":"horizontal","size":40,"thickness":2.5},
  "encoding":{"x":{"field":"g","type":"nominal","title":"LGG (II, III)"},"y":{"field":"med","type":"quantitative","title":"Risk score"},"color":{"field":"g","type":"nominal","legend":null}}},
 {"data":{"name":"kD"},"mark":{"type":"rule","color":"#333333","strokeWidth":1},
  "encoding":{"x":{"field":"a","type":"nominal","title":"LGG (II, III)"},"x2":{"field":"b"},"y":{"field":"y","type":"quantitative","title":"Risk score"}}},
 {"data":{"name":"kD"},"mark":{"type":"rule","color":"#333333","strokeWidth":1},
  "encoding":{"x":{"field":"a","type":"nominal","title":"LGG (II, III)"},"y":{"field":"y","type":"quantitative","title":"Risk score"},"y2":{"field":"yb"}}},
 {"data":{"name":"kD"},"mark":{"type":"rule","color":"#333333","strokeWidth":1},
  "encoding":{"x":{"field":"b","type":"nominal","title":"LGG (II, III)"},"y":{"field":"y","type":"quantitative","title":"Risk score"},"y2":{"field":"yb"}}},
 {"data":{"name":"kD"},"mark":{"type":"text","fontSize":8,"color":"#333333","baseline":"bottom","dy":-1},
  "encoding":{"x":{"field":"m","type":"nominal","title":"LGG (II, III)"},"y":{"field":"y","type":"quantitative","title":"Risk score"},"text":{"field":"t"}}},
 {"data":{"name":"uD"},"mark":{"type":"rule","color":"#222222","strokeWidth":1,"xOffset":-11,"x2Offset":23},
  "encoding":{"x":{"field":"a","type":"nominal","title":"LGG (II, III)"},"x2":{"field":"b"},"y":{"field":"y","type":"quantitative","title":"Risk score"}}},
 {"data":{"name":"uD"},"mark":{"type":"text","fontSize":9,"color":"#333333","baseline":"middle","dx":5},
  "encoding":{"x":{"field":"m","type":"nominal","title":"LGG (II, III)"},"y":{"field":"ty","type":"quantitative","title":"Risk score"},"text":{"field":"t"}}}
 ]},
{"title":{"text":"E","offset":1,"dx":-3},"width":205,"height":228,
 "layer":[
 {"data":{"name":"pE"},"mark":{"type":"circle","size":14,"opacity":1},
  "encoding":{
   "x":{"field":"g","type":"nominal","title":"GBM","scale":{"type":"point","domain":["IDH-mut","_1","IDH-wt"],"padding":1.2},
     "axis":{"grid":true,"gridWidth":1.5,"labelAngle":0,"titlePadding":2,"labelExpr":"indexof(datum.label,'_')===0 ? '' : datum.label","gridOpacity":{"condition":{"test":"indexof(datum.value,'_')===0","value":0},"value":1},"tickOpacity":{"condition":{"test":"indexof(datum.value,'_')===0","value":0},"value":1}}},
   "xOffset":{"field":"j","type":"quantitative","scale":{"domain":[-1,1],"range":[-27,27]}},
   "y":{"field":"v","type":"quantitative","title":"Risk score","scale":{"domain":[-3.08,0.65],"nice":false,"zero":false},
     "axis":{"values":[-3,-2.5,-2,-1.5,-1,-0.5,0,0.5],"format":".0f","labelOverlap":false,"labelExpr":"datum.value % 1 === 0 ? datum.label : ''","gridWidth":{"condition":{"test":"datum.value % 1 !== 0","value":0.7},"value":1.5},"tickOpacity":{"condition":{"test":"datum.value % 1 !== 0","value":0},"value":1}}},
   "color":{"field":"g","type":"nominal","scale":{"domain":["IDH-mut","IDH-wt"],"range":["#F8766D","#00BFC4"]},"legend":null}}},
 {"data":{"name":"bE"},"mark":{"type":"bar","size":56,"color":"white","opacity":0.45},
  "encoding":{"x":{"field":"g","type":"nominal","title":"GBM"},"y":{"field":"q1","type":"quantitative","title":"Risk score"},"y2":{"field":"q3"}}},
 {"data":{"name":"bE"},"mark":{"type":"bar","size":56,"fillOpacity":0.2},
  "encoding":{"x":{"field":"g","type":"nominal","title":"GBM"},"y":{"field":"q1","type":"quantitative","title":"Risk score"},"y2":{"field":"q3"},"color":{"field":"g","type":"nominal","legend":null}}},
 {"data":{"name":"bE"},"mark":{"type":"bar","size":56,"filled":false,"strokeWidth":1.3},
  "encoding":{"x":{"field":"g","type":"nominal","title":"GBM"},"y":{"field":"q1","type":"quantitative","title":"Risk score"},"y2":{"field":"q3"},"color":{"field":"g","type":"nominal","legend":null}}},
 {"data":{"name":"bE"},"mark":{"type":"rule","strokeWidth":1.3},
  "encoding":{"x":{"field":"g","type":"nominal","title":"GBM"},"y":{"field":"q3","type":"quantitative","title":"Risk score"},"y2":{"field":"hi"},"color":{"field":"g","type":"nominal","legend":null}}},
 {"data":{"name":"bE"},"mark":{"type":"rule","strokeWidth":1.3},
  "encoding":{"x":{"field":"g","type":"nominal","title":"GBM"},"y":{"field":"lo","type":"quantitative","title":"Risk score"},"y2":{"field":"q1"},"color":{"field":"g","type":"nominal","legend":null}}},
 {"data":{"name":"bE"},"mark":{"type":"tick","orient":"horizontal","size":56,"thickness":2.5},
  "encoding":{"x":{"field":"g","type":"nominal","title":"GBM"},"y":{"field":"med","type":"quantitative","title":"Risk score"},"color":{"field":"g","type":"nominal","legend":null}}},
 {"data":{"name":"kE"},"mark":{"type":"rule","color":"#333333","strokeWidth":1},
  "encoding":{"x":{"field":"a","type":"nominal","title":"GBM"},"x2":{"field":"b"},"y":{"field":"y","type":"quantitative","title":"Risk score"}}},
 {"data":{"name":"kE"},"mark":{"type":"rule","color":"#333333","strokeWidth":1},
  "encoding":{"x":{"field":"a","type":"nominal","title":"GBM"},"y":{"field":"y","type":"quantitative","title":"Risk score"},"y2":{"field":"yb"}}},
 {"data":{"name":"kE"},"mark":{"type":"rule","color":"#333333","strokeWidth":1},
  "encoding":{"x":{"field":"b","type":"nominal","title":"GBM"},"y":{"field":"y","type":"quantitative","title":"Risk score"},"y2":{"field":"yb"}}},
 {"data":{"name":"kE"},"mark":{"type":"text","fontSize":8,"color":"#333333","baseline":"bottom","dy":-1},
  "encoding":{"x":{"field":"m","type":"nominal","title":"GBM"},"y":{"field":"y","type":"quantitative","title":"Risk score"},"text":{"field":"t"}}}
 ]},
{"title":{"text":"F","offset":4,"dx":-13},"width":221,"height":224,
 "view":{"fill":"white","stroke":"#555555","strokeWidth":1.5},
 "layer":[
 {"data":{"name":"diag"},"mark":{"type":"line","color":"#A0A0A0","strokeWidth":1},
  "encoding":{
   "x":{"field":"sp","type":"quantitative","title":"Specificity (%)","scale":{"domain":[-4.4,103.9],"reverse":true,"nice":false,"zero":false},
     "axis":{"values":[0,10,20,30,40,50,60,70,80,90,100],"labelOverlap":false,"labelExpr":"datum.value % 20 === 0 ? datum.label : ''","tickOpacity":{"condition":{"test":"datum.value % 20 !== 0","value":0},"value":1},"grid":true,"gridColor":"#B5B5B5","gridDash":[1,2],"gridWidth":1,"labelFontSize":7,"labelColor":"#333333","tickSize":5,"tickColor":"#444444","titleFontSize":12.5,"titlePadding":2,"labelPadding":2}},
   "y":{"field":"se","type":"quantitative","title":"Sensitivity (%)","scale":{"domain":[-3.9,103.9],"nice":false,"zero":false},
     "axis":{"values":[0,10,20,30,40,50,60,70,80,90,100],"labelOverlap":false,"labelExpr":"datum.value % 20 === 0 ? datum.label : ''","tickOpacity":{"condition":{"test":"datum.value % 20 !== 0","value":0},"value":1},"grid":true,"gridColor":"#B5B5B5","gridDash":[1,2],"gridWidth":1,"labelFontSize":7,"labelColor":"#333333","labelAngle":270,"labelAlign":"center","labelBaseline":"bottom","tickSize":5,"tickColor":"#444444","titleFontSize":12.5,"titlePadding":3,"labelPadding":2}},
   "order":{"field":"sp","type":"quantitative"}}},
 {"data":{"name":"roc"},"mark":{"type":"line","color":"#1FC5C8","strokeWidth":2},
  "encoding":{"x":{"field":"sp","type":"quantitative","title":"Specificity (%)"},"y":{"field":"se","type":"quantitative","title":"Sensitivity (%)"},"order":{"field":"o","type":"quantitative"}}},
 {"data":{"name":"cut"},"mark":{"type":"circle","color":"#000000","size":16,"opacity":1},
  "encoding":{"x":{"field":"sp","type":"quantitative","title":"Specificity (%)"},"y":{"field":"se","type":"quantitative","title":"Sensitivity (%)"}}},
 {"data":{"name":"cut"},"mark":{"type":"text","align":"left","dx":6,"dy":5,"fontSize":10.5,"color":"#222222"},
  "encoding":{"x":{"field":"sp","type":"quantitative","title":"Specificity (%)"},"y":{"field":"se","type":"quantitative","title":"Sensitivity (%)"},"text":{"field":"t"}}},
 {"data":{"name":"auc"},"mark":{"type":"text","fontSize":10.5,"color":"#1FC5C8"},
  "encoding":{"x":{"field":"sp","type":"quantitative","title":"Specificity (%)"},"y":{"field":"se","type":"quantitative","title":"Sensitivity (%)"},"text":{"field":"t"}}}
 ]}
],"spacing":15,"resolve":{"scale":{"color":"independent"}}}
],
"spacing":7,
"resolve":{"scale":{"color":"independent"}}
}
